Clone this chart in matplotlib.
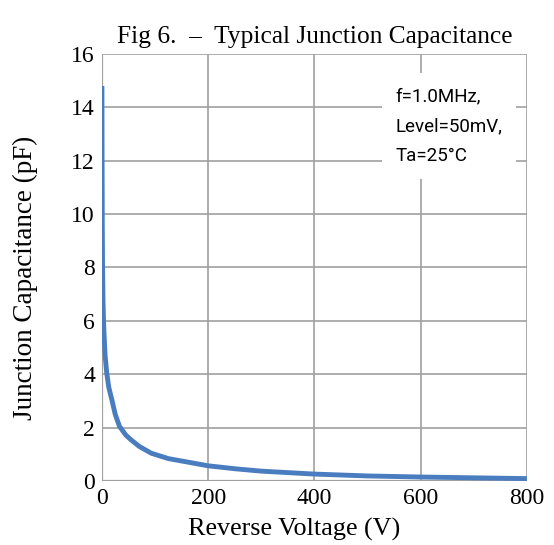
import matplotlib.pyplot as plt

# reverse voltage (V) and junction capacitance (pF)
voltage = [0, 0.3, 0.7, 1.2, 2, 3, 4, 6, 9, 13, 18, 25, 33, 45, 55, 70,
           93, 125, 175, 200, 250, 300, 400, 500, 600, 700, 800]
capacitance = [14.8, 12.0, 9.5, 8.0, 6.8, 6.0, 5.5, 4.7, 4.05, 3.5, 3.1,
               2.5, 2.05, 1.72, 1.54, 1.3, 1.04, 0.84, 0.66, 0.57, 0.46,
               0.37, 0.26, 0.19, 0.15, 0.12, 0.09]

x_ticks = [0, 200, 400, 600, 800]
y_ticks = [0, 2, 4, 6, 8, 10, 12, 14, 16]

serif = ['Liberation Serif', 'DejaVu Serif']

fig = plt.figure(figsize=(5.54, 5.45), dpi=100)
ax = fig.add_axes([0.184, 0.1174, 0.767, 0.7836])

ax.plot(voltage, capacitance, color='#4a7dbf', linewidth=3.5,
        solid_capstyle='butt', solid_joinstyle='round', zorder=3)

ax.set_xlim(0, 800)
ax.set_ylim(0, 16)
ax.set_xticks(x_ticks)
ax.set_yticks(y_ticks)
ax.grid(True, color='#a0a0a0', linewidth=1.2)
ax.set_axisbelow(True)
ax.tick_params(length=0, labelsize=17, pad=5)
for lbl in ax.get_xticklabels() + ax.get_yticklabels():
    lbl.set_family(serif)
for side in ['top', 'right', 'bottom', 'left']:
    ax.spines[side].set_visible(False)
ax.axvline(0, color='#a0a0a0', linewidth=1.6, zorder=2)
ax.axhline(0, color='#a0a0a0', linewidth=1.6, zorder=2)

ax.set_xlabel('Reverse Voltage (V)', family=serif, fontsize=18.8)
ax.set_ylabel('Junction Capacitance (pF)', family=serif, fontsize=19.5)
ax.xaxis.set_label_coords(0.452, -0.086)
ax.yaxis.set_label_coords(-0.15, 0.475)
ax.set_title('Fig 6.  \u2013  Typical Junction Capacitance', family=serif,
             fontsize=18.3, pad=8)

ax.text(553, 14.75, 'f=1.0MHz,\nLevel=50mV,\nTa=25\u00b0C',
        family=['Roboto', 'DejaVu Sans'], fontsize=13.5, va='top',
        ha='left', linespacing=1.85, zorder=4,
        bbox=dict(facecolor='white', edgecolor='none', pad=10))

fig.savefig('out.png', dpi=100)
